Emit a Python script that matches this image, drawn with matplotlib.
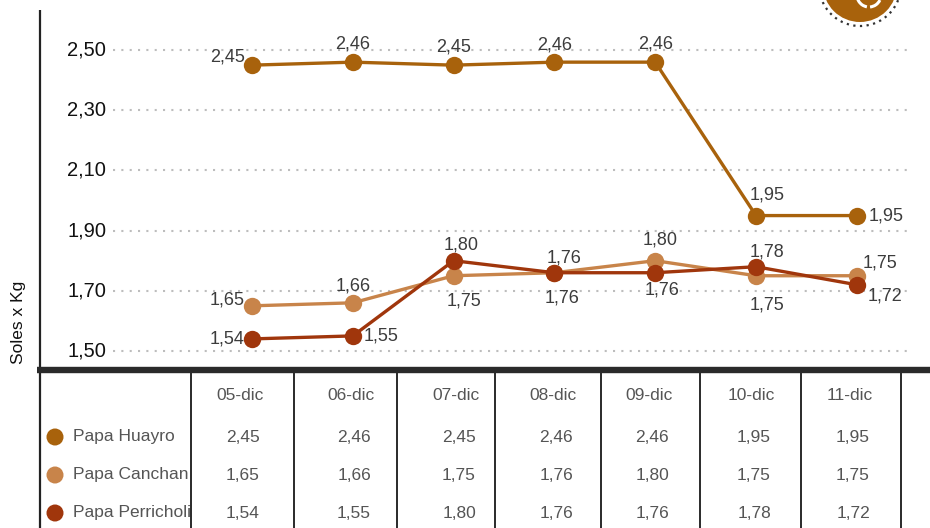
import numpy as np
import matplotlib
matplotlib.use('Agg')
import matplotlib.pyplot as plt
from matplotlib.patches import Circle, Arc

plt.rcParams['font.family'] = ['Liberation Sans', 'DejaVu Sans']

# data
fechas = ['05-dic', '06-dic', '07-dic', '08-dic', '09-dic', '10-dic', '11-dic']
series = ['Papa Huayro', 'Papa Canchan', 'Papa Perricholi']
huayro = [2.45, 2.46, 2.45, 2.46, 2.46, 1.95, 1.95]
canchan = [1.65, 1.66, 1.75, 1.76, 1.80, 1.75, 1.75]
perricholi = [1.54, 1.55, 1.80, 1.76, 1.76, 1.78, 1.72]
yticks = [1.50, 1.70, 1.90, 2.10, 2.30, 2.50]
colores = ['#A8620C', '#C8844A', '#A0360C']
valores = [huayro, canchan, perricholi]

def fmt(v):
    return ('%.2f' % v).replace('.', ',')

# label placement (dx, dy in px, ha)
pos_lbl = [
    [(-7, 8, 'right'), (0, 18, 'center'), (0, 18, 'center'), (0, 17, 'center'),
     (0, 18, 'center'), (11, 21, 'center'), (12, 0, 'left')],
    [(-7, 6, 'right'), (0, 17, 'center'), (10, -25, 'center'), (8, -25, 'center'),
     (5, 21, 'center'), (11, -29, 'center'), (6, 13, 'left')],
    [(-8, 0, 'right'), (11, 0, 'left'), (8, 16, 'center'), (10, 15, 'center'),
     (7, -17, 'center'), (11, 15, 'center'), (11, -11, 'left')],
]

W, H = 930, 528
fig = plt.figure(figsize=(W/100, H/100), dpi=100)

# chart axes: left 40px, bottom at 370px
ax = fig.add_axes([40/W, (H-370)/H, 890/W, 360/H])
x = np.arange(len(fechas))
x0, dxp = 252, 100.8
ax.set_xlim((40-x0)/dxp, (930-x0)/dxp)
ax.set_ylim(1.50-(370-351)/300, 2.50+40/300)
for s in ax.spines.values():
    s.set_visible(False)
ax.set_xticks([])
ax.set_yticks([])

gx1, gx2 = (113-x0)/dxp, (908-x0)/dxp
for t in yticks:
    ax.plot([gx1, gx2], [t, t], color='#bdbdbd', lw=1.5, ls=(0, (1, 3)), zorder=1)
    ax.text((106-40)/890, t, fmt(t), transform=ax.get_yaxis_transform(),
            ha='right', va='center', fontsize=14.5, color='#111111')

for i, vals in enumerate(valores):
    ax.plot(x, vals, color=colores[i], lw=2.4, marker='o', ms=12.5,
            markeredgewidth=0, zorder=3+i, solid_joinstyle='round')
    for j, v in enumerate(vals):
        dx, dy, ha = pos_lbl[i][j]
        ax.annotate(fmt(v), (x[j], v), xytext=(dx*0.72, dy*0.72),
                    textcoords='offset points', ha=ha, va='center',
                    fontsize=13, color='#3c3c3c', zorder=10)

fig.text(18/W, 1-322/H, 'Soles x Kg', rotation=90, ha='center', va='center',
         fontsize=12.5, color='#111111')

# overlay in pixel coordinates
ov = fig.add_axes([0, 0, 1, 1], zorder=5)
ov.set_xlim(0, W)
ov.set_ylim(H, 0)
ov.axis('off')
ov.patch.set_alpha(0)

ov.plot([40, 40], [10, H], color='#222222', lw=1.6, solid_capstyle='butt')
ov.plot([37, W], [369.5, 369.5], color='#2a2a2a', lw=4.6, solid_capstyle='butt')
for xd in [191, 294, 397, 495, 601, 700, 801, 901]:
    ov.plot([xd, xd], [373, H], color='#2a2a2a', lw=1.4, solid_capstyle='butt')

col_c = [240, 351, 456, 553, 649, 751, 850]
row_y = [437, 475, 513]
for c, f in zip(col_c, fechas):
    ov.text(c, 395, f, ha='center', va='center', fontsize=12.5, color='#555555')
for r, (nombre, vals) in enumerate(zip(series, valores)):
    ov.add_patch(Circle((55, row_y[r]), 8.5, color=colores[r], lw=0))
    ov.text(73, row_y[r], nombre, ha='left', va='center', fontsize=12.5, color='#555555')
    for c, v in zip(col_c, vals):
        ov.text(c+3, row_y[r], fmt(v), ha='center', va='center', fontsize=12.5,
                color='#555555')

# logo top right
ov.add_patch(Circle((860, -15), 41, fill=False, ec='#333333', lw=1.6, ls=(0, (1, 2))))
ov.add_patch(Circle((860, -15), 37, color='#A8620C', lw=0))
ov.add_patch(Arc((869, -5), 24, 24, theta1=100, theta2=200, color='white', lw=2.2))
ov.add_patch(Arc((869, -5), 24, 24, theta1=25, theta2=85, color='white', lw=2.2))

fig.savefig('out.png', dpi=100)
